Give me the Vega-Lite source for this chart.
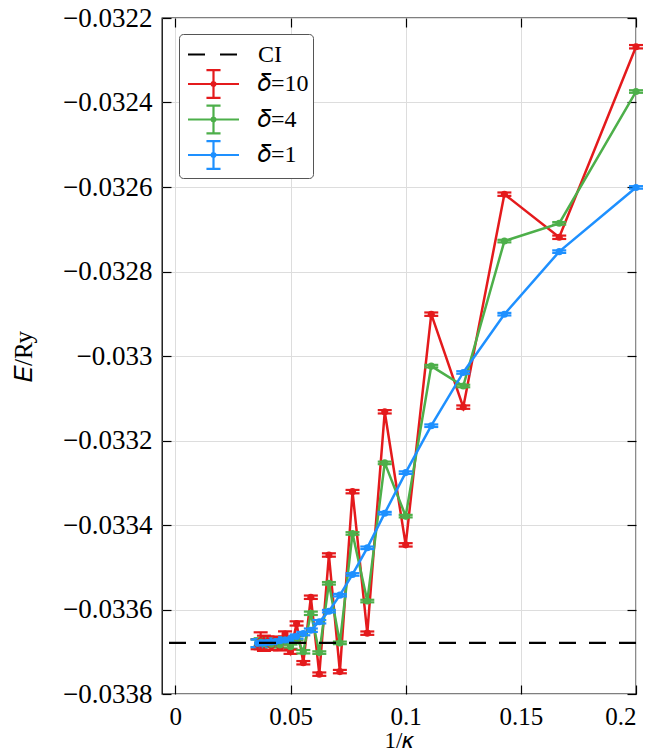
{
  "$schema": "https://vega.github.io/schema/vega-lite/v6.json",
  "width": 474,
  "height": 676,
  "autosize": {"type": "none"},
  "padding": {"left": 162, "top": 18, "right": 17, "bottom": 58},
  "config": {
    "view": {"stroke": "#000", "strokeWidth": 1.3},
    "font": "Liberation Serif",
    "axis": {
      "labelFont": "Liberation Serif",
      "titleFont": "Liberation Serif",
      "labelColor": "#000",
      "titleColor": "#000",
      "labelFontSize": 27,
      "titleFontSize": 25,
      "titleFontWeight": "normal",
      "tickColor": "#000",
      "tickWidth": 1.2,
      "tickSize": -9,
      "domain": false,
      "gridColor": "#dddddd",
      "gridWidth": 1
    },
    "legend": {"symbolStrokeWidth": 2.2}
  },
  "datasets": {
    "pts": [
      {"s": "δ=10", "x": 0.2, "E": -0.032268, "err": 0.000004},
      {"s": "δ=10", "x": 0.166667, "E": -0.032719, "err": 0.000004},
      {"s": "δ=10", "x": 0.142857, "E": -0.032617, "err": 0.000004},
      {"s": "δ=10", "x": 0.125, "E": -0.033121, "err": 0.000004},
      {"s": "δ=10", "x": 0.111111, "E": -0.032901, "err": 0.000004},
      {"s": "δ=10", "x": 0.1, "E": -0.033447, "err": 0.000004},
      {"s": "δ=10", "x": 0.090909, "E": -0.033132, "err": 0.000004},
      {"s": "δ=10", "x": 0.083333, "E": -0.033656, "err": 0.000004},
      {"s": "δ=10", "x": 0.076923, "E": -0.033321, "err": 0.000004},
      {"s": "δ=10", "x": 0.071429, "E": -0.033747, "err": 0.000004},
      {"s": "δ=10", "x": 0.066667, "E": -0.033471, "err": 0.000004},
      {"s": "δ=10", "x": 0.0625, "E": -0.033753, "err": 0.000004},
      {"s": "δ=10", "x": 0.058824, "E": -0.033571, "err": 0.000004},
      {"s": "δ=10", "x": 0.055556, "E": -0.033726, "err": 0.000004},
      {"s": "δ=10", "x": 0.052632, "E": -0.033633, "err": 0.000005},
      {"s": "δ=10", "x": 0.05, "E": -0.0337, "err": 0.000005},
      {"s": "δ=10", "x": 0.047619, "E": -0.033658, "err": 0.000006},
      {"s": "δ=10", "x": 0.045455, "E": -0.03369, "err": 0.000007},
      {"s": "δ=10", "x": 0.043478, "E": -0.033672, "err": 0.000008},
      {"s": "δ=10", "x": 0.041667, "E": -0.033686, "err": 0.00001},
      {"s": "δ=10", "x": 0.04, "E": -0.033676, "err": 0.000012},
      {"s": "δ=10", "x": 0.038462, "E": -0.03368, "err": 0.000018},
      {"s": "δ=10", "x": 0.037037, "E": -0.033674, "err": 0.00002},
      {"s": "δ=10", "x": 0.035714, "E": -0.033682, "err": 0.000012},
      {"s": "δ=4", "x": 0.2, "E": -0.032374, "err": 0.000003},
      {"s": "δ=4", "x": 0.166667, "E": -0.032686, "err": 0.000003},
      {"s": "δ=4", "x": 0.142857, "E": -0.032728, "err": 0.000003},
      {"s": "δ=4", "x": 0.125, "E": -0.033071, "err": 0.000003},
      {"s": "δ=4", "x": 0.111111, "E": -0.033024, "err": 0.000003},
      {"s": "δ=4", "x": 0.1, "E": -0.033379, "err": 0.000003},
      {"s": "δ=4", "x": 0.090909, "E": -0.033253, "err": 0.000003},
      {"s": "δ=4", "x": 0.083333, "E": -0.03358, "err": 0.000003},
      {"s": "δ=4", "x": 0.076923, "E": -0.03342, "err": 0.000003},
      {"s": "δ=4", "x": 0.071429, "E": -0.033679, "err": 0.000003},
      {"s": "δ=4", "x": 0.066667, "E": -0.033538, "err": 0.000003},
      {"s": "δ=4", "x": 0.0625, "E": -0.033702, "err": 0.000003},
      {"s": "δ=4", "x": 0.058824, "E": -0.033609, "err": 0.000004},
      {"s": "δ=4", "x": 0.055556, "E": -0.0337, "err": 0.000004},
      {"s": "δ=4", "x": 0.052632, "E": -0.033668, "err": 0.000005},
      {"s": "δ=4", "x": 0.05, "E": -0.033688, "err": 0.000005},
      {"s": "δ=4", "x": 0.047619, "E": -0.033672, "err": 0.000006},
      {"s": "δ=4", "x": 0.045455, "E": -0.033684, "err": 0.000006},
      {"s": "δ=4", "x": 0.043478, "E": -0.033676, "err": 0.000007},
      {"s": "δ=4", "x": 0.041667, "E": -0.033682, "err": 0.000007},
      {"s": "δ=4", "x": 0.04, "E": -0.033678, "err": 0.000008},
      {"s": "δ=4", "x": 0.038462, "E": -0.033681, "err": 0.000008},
      {"s": "δ=4", "x": 0.037037, "E": -0.033677, "err": 0.000009},
      {"s": "δ=4", "x": 0.035714, "E": -0.03368, "err": 0.000009},
      {"s": "δ=1", "x": 0.2, "E": -0.032601, "err": 0.000003},
      {"s": "δ=1", "x": 0.166667, "E": -0.032753, "err": 0.000003},
      {"s": "δ=1", "x": 0.142857, "E": -0.032901, "err": 0.000003},
      {"s": "δ=1", "x": 0.125, "E": -0.033039, "err": 0.000003},
      {"s": "δ=1", "x": 0.111111, "E": -0.033165, "err": 0.000003},
      {"s": "δ=1", "x": 0.1, "E": -0.033276, "err": 0.000003},
      {"s": "δ=1", "x": 0.090909, "E": -0.033372, "err": 0.000003},
      {"s": "δ=1", "x": 0.083333, "E": -0.033454, "err": 0.000003},
      {"s": "δ=1", "x": 0.076923, "E": -0.033517, "err": 0.000003},
      {"s": "δ=1", "x": 0.071429, "E": -0.033566, "err": 0.000003},
      {"s": "δ=1", "x": 0.066667, "E": -0.033604, "err": 0.000003},
      {"s": "δ=1", "x": 0.0625, "E": -0.033629, "err": 0.000004},
      {"s": "δ=1", "x": 0.058824, "E": -0.033649, "err": 0.000004},
      {"s": "δ=1", "x": 0.055556, "E": -0.033657, "err": 0.000004},
      {"s": "δ=1", "x": 0.052632, "E": -0.033664, "err": 0.000005},
      {"s": "δ=1", "x": 0.05, "E": -0.033669, "err": 0.000005},
      {"s": "δ=1", "x": 0.047619, "E": -0.033672, "err": 0.000006},
      {"s": "δ=1", "x": 0.045455, "E": -0.033674, "err": 0.000006},
      {"s": "δ=1", "x": 0.043478, "E": -0.033676, "err": 0.000007},
      {"s": "δ=1", "x": 0.041667, "E": -0.033677, "err": 0.000007},
      {"s": "δ=1", "x": 0.04, "E": -0.033678, "err": 0.000008},
      {"s": "δ=1", "x": 0.038462, "E": -0.033679, "err": 0.000008},
      {"s": "δ=1", "x": 0.037037, "E": -0.033679, "err": 0.000009},
      {"s": "δ=1", "x": 0.035714, "E": -0.03368, "err": 0.000009}
    ],
    "ci": [{"s": "CI", "E": -0.033679}],
    "none": []
  },
  "resolve": {"axis": {"x": "independent", "y": "independent"}},
  "layer": [
    {
      "data": {"name": "none"},
      "mark": {"type": "point", "filled": false, "size": 900, "opacity": 1, "strokeWidth": 2.2},
      "encoding": {
        "x": {"field": "x", "type": "quantitative",
          "scale": {"domain": [-0.0058, 0.2], "nice": false, "zero": false},
          "axis": {"orient": "top", "values": [0, 0.05, 0.1, 0.15, 0.2], "labels": false, "grid": false, "title": null}},
        "y": {"field": "E", "type": "quantitative",
          "scale": {"domain": [-0.0338, -0.0322], "nice": false, "zero": false},
          "axis": {"orient": "right", "values": [-0.0338, -0.0336, -0.0334, -0.0332, -0.033, -0.0328, -0.0326, -0.0324, -0.0322], "labels": false, "grid": false, "title": null}},
        "color": {"field": "s", "type": "nominal",
          "scale": {"domain": ["CI", "δ=10", "δ=4", "δ=1"], "range": ["#000000", "#e41a1c", "#4daf4a", "#1e90ff"]},
          "legend": {"title": null, "orient": "none", "legendX": 17, "legendY": 16, "padding": 4, "fillColor": "#ffffff", "strokeColor": "#555555", "cornerRadius": 4, "labelFont": "Liberation Serif", "labelFontSize": 24, "labelColor": "#000", "labelExpr": "replace(datum.label, 'δ', '𝛿') + '\u2004'", "symbolOffset": 14, "labelOffset": 28, "rowPadding": -1.5, "symbolSize": 900, "symbolStrokeWidth": 2.2, "symbolOpacity": 1}},
        "shape": {"field": "s", "type": "nominal",
          "scale": {"domain": ["CI", "δ=10", "δ=4", "δ=1"], "range": ["M-1.7,0H1.7", "M-1.7,0H1.7M0,-0.93V0.93M-0.47,-0.93H0.47M-0.47,0.93H0.47M0.13,0A0.13,0.13,0,1,1,-0.13,0A0.13,0.13,0,1,1,0.13,0", "M-1.7,0H1.7M0,-0.93V0.93M-0.47,-0.93H0.47M-0.47,0.93H0.47M0.13,0A0.13,0.13,0,1,1,-0.13,0A0.13,0.13,0,1,1,0.13,0", "M-1.7,0H1.7M0,-0.93V0.93M-0.47,-0.93H0.47M-0.47,0.93H0.47M0.13,0A0.13,0.13,0,1,1,-0.13,0A0.13,0.13,0,1,1,0.13,0"]},
          "legend": {"title": null, "orient": "none", "legendX": 17, "legendY": 16, "padding": 4, "fillColor": "#ffffff", "strokeColor": "#555555", "cornerRadius": 4, "labelFont": "Liberation Serif", "labelFontSize": 24, "labelColor": "#000", "labelExpr": "replace(datum.label, 'δ', '𝛿') + '\u2004'", "symbolOffset": 14, "labelOffset": 28, "rowPadding": -1.5, "symbolSize": 900, "symbolStrokeWidth": 2.2, "symbolOpacity": 1}},
        "strokeDash": {"field": "s", "type": "nominal",
          "scale": {"domain": ["CI", "δ=10", "δ=4", "δ=1"], "range": [[17, 15], [1, 0], [1, 0], [1, 0]]},
          "legend": {"title": null, "orient": "none", "legendX": 17, "legendY": 16, "padding": 4, "fillColor": "#ffffff", "strokeColor": "#555555", "cornerRadius": 4, "labelFont": "Liberation Serif", "labelFontSize": 24, "labelColor": "#000", "labelExpr": "replace(datum.label, 'δ', '𝛿') + '\u2004'", "symbolOffset": 14, "labelOffset": 28, "rowPadding": -1.5, "symbolSize": 900, "symbolStrokeWidth": 2.2, "symbolOpacity": 1}}
      }
    },
    {
      "data": {"name": "pts"},
      "mark": {"type": "line", "strokeWidth": 2.5},
      "encoding": {
        "x": {"field": "x", "type": "quantitative",
          "axis": {"orient": "bottom", "values": [0, 0.05, 0.1, 0.15, 0.2], "format": "~g", "labelFontSize": 25, "labelPadding": 19, "title": "1/𝜅", "titlePadding": 0, "titleFontSize": 23, "grid": true}},
        "y": {"field": "E", "type": "quantitative",
          "axis": {"orient": "left", "values": [-0.0338, -0.0336, -0.0334, -0.0332, -0.033, -0.0328, -0.0326, -0.0324, -0.0322], "format": "~g", "labelPadding": 19, "title": "𝐸/Ry", "titlePadding": 26, "grid": true}},
        "color": {"field": "s", "type": "nominal"}
      }
    },
    {
      "data": {"name": "pts"},
      "mark": {"type": "errorbar", "thickness": 2.2, "ticks": {"size": 14, "thickness": 2.2, "opacity": 1}},
      "encoding": {
        "x": {"field": "x", "type": "quantitative", "axis": null},
        "y": {"field": "E", "type": "quantitative", "axis": null},
        "yError": {"field": "err"},
        "color": {"field": "s", "type": "nominal"}
      }
    },
    {
      "data": {"name": "pts"},
      "mark": {"type": "point", "filled": true, "size": 50, "opacity": 1},
      "encoding": {
        "x": {"field": "x", "type": "quantitative", "axis": null},
        "y": {"field": "E", "type": "quantitative", "axis": null},
        "color": {"field": "s", "type": "nominal"}
      }
    },
    {
      "data": {"name": "ci"},
      "mark": {"type": "rule", "color": "#000", "strokeWidth": 2.2, "strokeDash": [17, 13]},
      "encoding": {
        "y": {"field": "E", "type": "quantitative", "axis": null}
      }
    }
  ]
}
